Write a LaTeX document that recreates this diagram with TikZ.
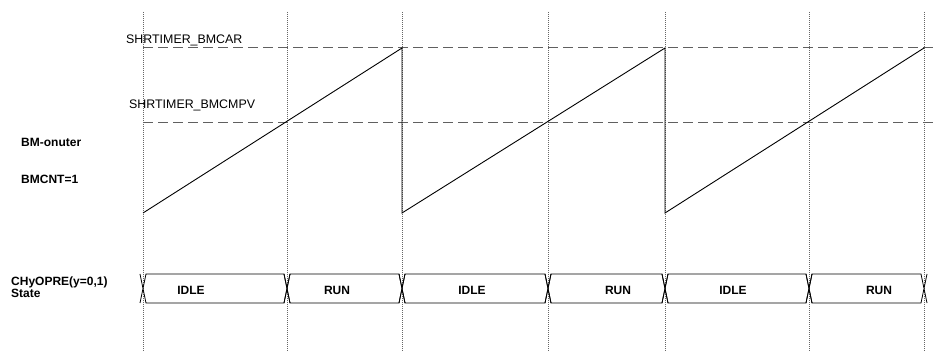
\documentclass[tikz,border=0pt]{standalone}
\usepackage{fontspec}
\setmainfont{Liberation Sans}

\begin{document}
\begin{tikzpicture}[x=1pt, y=-1pt,
  timeline/.style={gray!80!black, line width=0.7pt, dash pattern=on 1pt off 1pt},
  level/.style={gray!75!black, line width=1pt, dash pattern=on 10pt off 5pt},
  ramp/.style={black, line width=0.9pt},
  bus/.style={black, line width=0.8pt},
  lbl/.style={font=\fontsize{12.4}{13}\selectfont, inner sep=0pt, anchor=base west},
  sig/.style={font=\fontsize{12}{13}\selectfont\bfseries, inner sep=0pt, anchor=base west},
  statelbl/.style={font=\fontsize{12}{13}\selectfont\bfseries, inner sep=0pt}]
  \useasboundingbox (0,0) rectangle (934,352);
  % time markers
  \draw[timeline] (143,12) -- (143,352);
  \draw[timeline] (287,12) -- (287,352);
  \draw[timeline] (402,12) -- (402,352);
  \draw[timeline] (548,12) -- (548,352);
  \draw[timeline] (665,12) -- (665,352);
  \draw[timeline] (809,12) -- (809,352);
  \draw[timeline] (924,12) -- (924,352);
  % compare levels
  \draw[level] (143,48) -- (934,48);
  \draw[level] (143,123) -- (934,123);
  \node[lbl] (bmcar) at (126,43.5) {SHRTIMER\_BMCAR};
  \node[lbl] (bmcmpv) at (129,108.5) {SHRTIMER\_BMCMPV};
  % counter
  \draw[ramp] (143,213) -- (402,48) -- (402,213) -- (665,48) -- (665,213) -- (924,48);
  \node[sig] (onuter) at (21,147) {BM-onuter};
  \node[sig] (bmcnt) at (21,184) {BMCNT=1};
  % state bus
  \foreach \a/\b in {143/287, 287/402, 402/548, 548/665, 665/809, 809/924}
    \draw[bus] (\a-3,274) -- (\a+3,303) -- (\b-3,303) -- (\b+3,274)
               (\a-3,303) -- (\a+3,274) -- (\b-3,274) -- (\b+3,303);
  \node[sig] (chy) at (11,285.5) {CHyOPRE(y=0,1)};
  \node[sig] (state) at (11,298) {State};
  \node[statelbl] (s1) at (191,290) {IDLE};
  \node[statelbl] (s2) at (337,290) {RUN};
  \node[statelbl] (s3) at (472,290) {IDLE};
  \node[statelbl] (s4) at (618,290) {RUN};
  \node[statelbl] (s5) at (733,290) {IDLE};
  \node[statelbl] (s6) at (879,290) {RUN};
\end{tikzpicture}
\end{document}
